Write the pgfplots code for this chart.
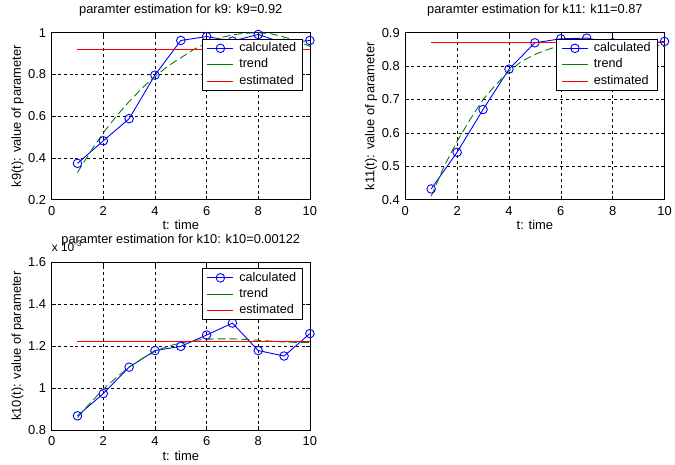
\documentclass[border=0pt]{standalone}
\usepackage{fontspec}
\setmainfont{Liberation Sans}
\usepackage{pgfplots}
\pgfplotsset{compat=1.18}
\definecolor{mblue}{RGB}{0,0,255}
\definecolor{mgreen}{RGB}{0,128,0}
\definecolor{mred}{RGB}{255,0,0}
\pgfplotsset{
  mstyle/.style={
    scale only axis,
    xmin=0, xmax=10,
    xtick={0,2,4,6,8,10},
    grid=major,
    major grid style={black, line width=0.6pt, dash pattern=on 3pt off 3pt},
    tick align=inside,
    major tick length=4pt,
    tick style={black, line width=0.6pt},
    axis line style={line width=0.8pt},
    /pgf/number format/assume math mode=true,
    tick label style={font=\fontsize{13}{15}\selectfont},
    xticklabel style={anchor=base, yshift=-16pt},
    yticklabel style={anchor=east, xshift=-2pt},
    title style={font=\fontsize{12.9}{15}\selectfont, anchor=base, at={(axis description cs:0.5,1)}, yshift=13pt},
    label style={font=\fontsize{13}{15}\selectfont},
    xlabel style={at={(axis description cs:0.5,-0.179)}, anchor=base},
    ylabel style={at={(axis description cs:-0.119,0.5)}, anchor=base, rotate=0},
    clip=false,
    legend style={at={(0.973,0.964)}, anchor=north east, draw=black, line width=0.8pt, fill=white,
      font=\fontsize{12.7}{14}\selectfont, cells={anchor=west},
      row sep=2pt, inner xsep=5pt, inner ysep=2pt,
      /tikz/every odd column/.append style={column sep=4pt},
      nodes={inner sep=1.5pt, text height=9pt, text depth=2.5pt}},
    legend image code/.code={
      \draw[#1, solid] (0pt,0pt) -- (26pt,0pt);
      \draw[#1, solid] plot coordinates {(13pt,0pt)};
    },
  },
  calc/.style={mblue, line width=0.9pt, mark=o, mark size=4.3pt, mark options={solid, line width=0.9pt}},
  trend/.style={mgreen, line width=0.9pt, dash pattern=on 8pt off 4pt},
  est/.style={mred, line width=1pt},
}
\begin{document}
\begin{tikzpicture}
\path (0pt,0pt) rectangle (675pt,468pt);
% k9
\begin{axis}[mstyle, at={(52pt,267pt)}, anchor=south west, width=260pt, height=168pt,
  ymin=0.2, ymax=1, ytick={0.2,0.4,0.6,0.8,1},
  title={paramter estimation for k9: k9=0.92},
  xlabel={t: time}, ylabel={k9(t): value of parameter}]
\addplot[calc] coordinates {(1,0.374) (2,0.482) (3,0.588) (4,0.797) (5,0.963) (6,0.982) (7,0.96) (8,0.992) (9,0.95) (10,0.963)};
\addlegendentry{calculated\hspace{7pt}}
\addplot[trend] coordinates {(1,0.33) (1.5,0.43) (2,0.52) (2.5,0.60) (3,0.67) (3.5,0.735) (4,0.79) (4.5,0.84) (5,0.88) (5.5,0.92) (6,0.95) (6.5,0.975) (7,0.99) (7.5,0.998) (8,1.0) (8.5,0.995) (9,0.98) (9.5,0.96) (10,0.935)};
\addlegendentry{trend}
\addplot[est] coordinates {(1,0.92) (10,0.92)};
\addlegendentry{estimated}
\end{axis}
% k11
\begin{axis}[mstyle, at={(408pt,267pt)}, anchor=south west, width=261pt, height=168pt,
  ymin=0.4, ymax=0.9, ytick={0.4,0.5,0.6,0.7,0.8,0.9},
  title={paramter estimation for k11: k11=0.87},
  xlabel={t: time}, ylabel={k11(t): value of parameter}]
\addplot[calc] coordinates {(1,0.432) (2,0.542) (3,0.670) (4,0.791) (5,0.870) (6,0.882) (7,0.884) (8,0.87) (9,0.865) (10,0.874)};
\addlegendentry{calculated\hspace{7pt}}
\addplot[trend] coordinates {(1,0.41) (1.5,0.50) (2,0.575) (2.5,0.64) (3,0.70) (3.5,0.745) (4,0.785) (4.5,0.815) (5,0.835) (5.5,0.85) (6,0.862) (6.5,0.87) (7,0.874) (7.5,0.876) (8,0.876) (8.5,0.874) (9,0.87) (9.5,0.865) (10,0.858)};
\addlegendentry{trend}
\addplot[est] coordinates {(1,0.87) (10,0.87)};
\addlegendentry{estimated}
\end{axis}
% k10
\begin{axis}[mstyle, at={(52pt,35pt)}, anchor=south west, width=260pt, height=169pt,
  ymin=0.8, ymax=1.6, ytick={0.8,1,1.2,1.4,1.6},
  title={paramter estimation for k10: k10=0.00122},
  xlabel={t: time}, ylabel={k10(t): value of parameter}]
\addplot[calc] coordinates {(1,0.868) (2,0.974) (3,1.10) (4,1.179) (5,1.199) (6,1.253) (7,1.31) (8,1.179) (9,1.153) (10,1.26)};
\addlegendentry{calculated\hspace{7pt}}
\addplot[trend] coordinates {(1,0.86) (1.5,0.93) (2,0.995) (2.5,1.05) (3,1.10) (3.5,1.14) (4,1.175) (4.5,1.20) (5,1.215) (5.5,1.227) (6,1.233) (6.5,1.235) (7,1.235) (7.5,1.232) (8,1.228) (8.5,1.224) (9,1.22) (9.5,1.218) (10,1.218)};
\addlegendentry{trend}
\addplot[est] coordinates {(1,1.22) (10,1.22)};
\addlegendentry{estimated}
\node[anchor=base west, inner sep=0pt, font=\fontsize{12}{14}\selectfont] at (axis description cs:0,1.065) {x 10\textsuperscript{-3}};
\end{axis}
\end{tikzpicture}
\end{document}
